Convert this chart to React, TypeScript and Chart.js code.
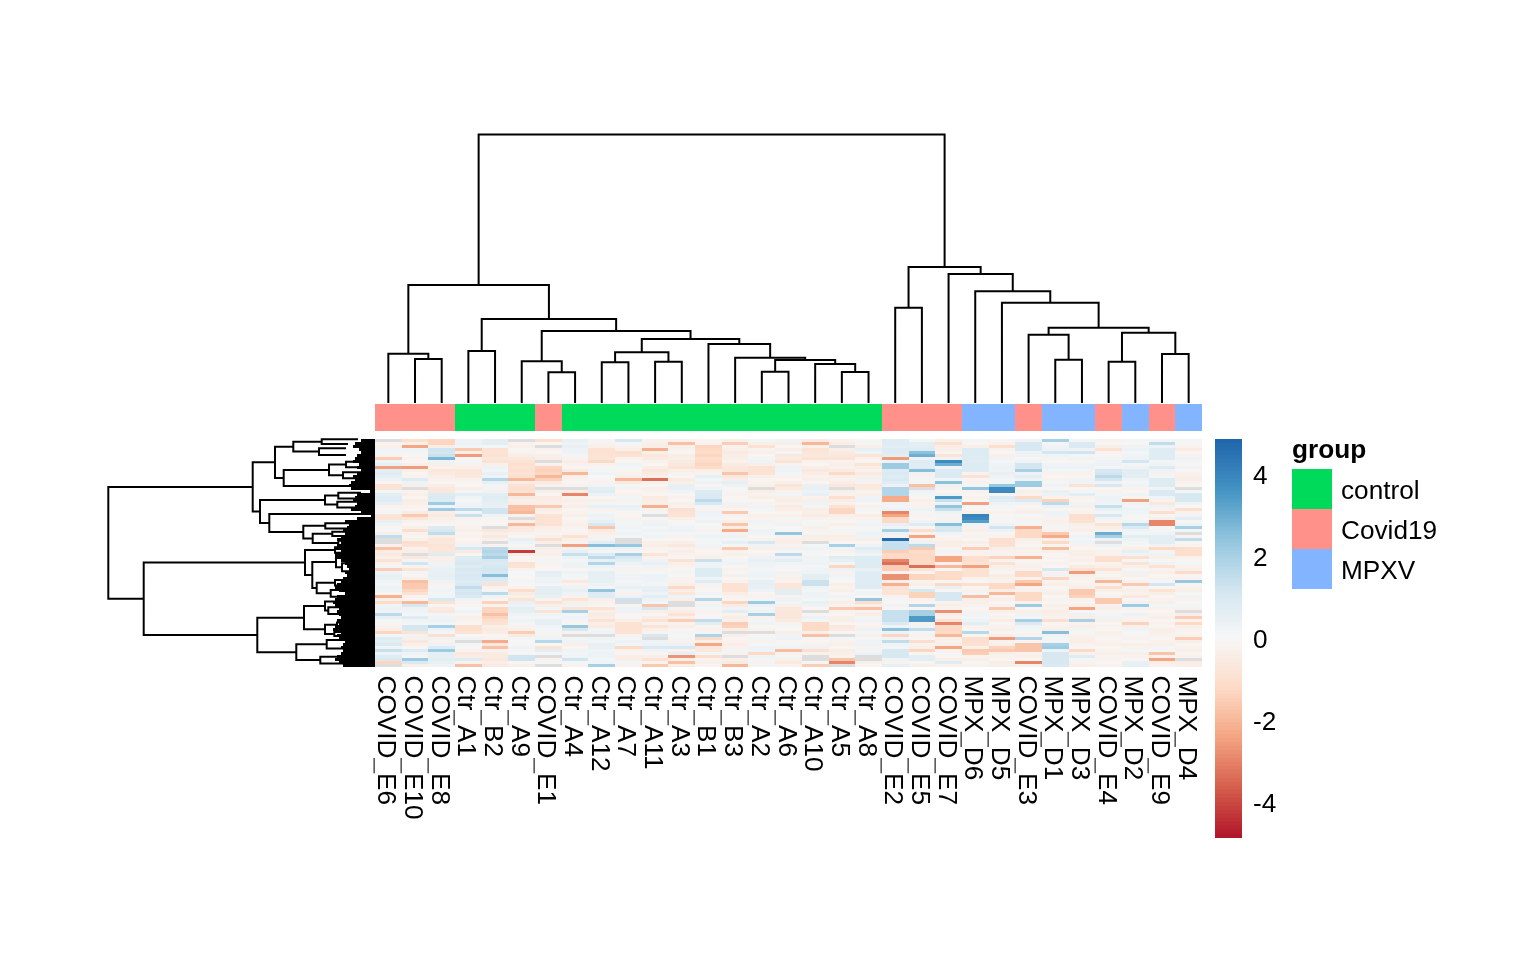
import React, { useEffect, useRef } from "react";
import { Chart, registerables } from "chart.js";

Chart.register(...registerables);

const _ = null;
const FONT = "'Liberation Sans', Arial, sans-serif";
const FONT_PX = 26.2;

const colLabels = ["COVID_E6","COVID_E10","COVID_E8","Ctr_A1","Ctr_B2","Ctr_A9","COVID_E1","Ctr_A4","Ctr_A12","Ctr_A7","Ctr_A11","Ctr_A3","Ctr_B1","Ctr_B3","Ctr_A2","Ctr_A6","Ctr_A10","Ctr_A5","Ctr_A8","COVID_E2","COVID_E5","COVID_E7","MPX_D6","MPX_D5","COVID_E3","MPX_D1","MPX_D3","COVID_E4","MPX_D2","COVID_E9","MPX_D4"];
const colGroups = ["Covid19","Covid19","Covid19","control","control","control","Covid19","control","control","control","control","control","control","control","control","control","control","control","control","Covid19","Covid19","Covid19","MPXV","MPXV","Covid19","MPXV","MPXV","Covid19","MPXV","Covid19","MPXV"];
const groupNames = ["control","Covid19","MPXV"];
const groupColors = ["#00DA5A","#FF918A","#83B4FF"];
const legendTicks = [-4,-2,0,2,4];
const legendLimit = 4.87;
const rdbuStops = ["#B2182B","#D6604D","#F4A582","#FDDBC7","#F7F7F7","#D1E5F0","#92C5DE","#4393C3","#2166AC"];

// heat values, in tenths of a unit, one array per column, top row first; null = NA
const E6 = [_,-2,-3,2,1,-2,-15,1,5,-25, 6,7,5,3,-1,-9,-8,1,6,7, 7,4,-2,-1,1,-8,-9,4,2,-1, 0,-3,15,_,_,-2,-18,-4,-6,-3, -9,-2,1,-15,3,5,4,2,1,3, 2,-1,-22,-3,-11,2,3,2,16,4, 1,-1,-2,-4,-13,1,8,6,9,2, 14,3,8,9,-13,_];
const E10 = [-10,-3,-24,2,1,-1,-2,-1,-3,-26, -3,-1,-2,8,3,-3,_,-2,-3,-1, -4,-3,-2,-1,-5,-16,-7,-2,-1,-3, -10,-2,-1,-3,-10,-9,-2,-4,_,-6, 1,12,-2,-8,1,-1,-3,-18,-16,-16, -13,-9,-2,-1,-20,10,3,2,1,7, 2,1,11,11,-8,2,-3,-6,-3,-1, 8,2,1,22,9,-3];
const E8 = [-13,-13,-4,12,11,13,28,2,-3,-2, -7,-5,-3,-2,-1,-4,-6,-7,8,9, 8,22,2,22,-4,-5,-3,-2,-1,8, 10,15,-4,-7,-6,-8,-7,-7,7,-3, -3,2,3,4,4,5,4,3,-2,1, 2,1,2,10,-9,-1,-5,-6,1,2, 3,1,20,3,1,-10,2,-2,3,8, 22,5,5,6,4,2];
const A1 = [3,3,1,-16,-3,-26,-1,1,-2,-3, -7,-7,-6,-2,-1,-1,-4,1,6,2, 1,2,3,16,1,14,-2,-1,-1,-2, -3,-1,-2,-1,-2,2,10,-5,-1,8, 9,10,8,10,9,10,9,8,9,15, 10,11,9,2,-2,-1,0,2,-1,-3, -2,-1,-10,-10,-8,-1,2,_,1,-1, -2,-6,-4,8,-2,-18];
const B2 = [6,6,1,-9,-8,-9,-7,-9,-3,3, 1,4,2,18,4,1,-2,3,6,7, 6,5,4,12,12,2,-1,-1,-1,_, -6,-3,-6,-2,_,-2,16,18,16,20, 10,9,10,11,10,26,9,8,-9,-2, 1,16,2,-1,-14,-2,-13,-13,-18,-13, -10,-9,-3,-5,-4,-1,-2,-23,-6,-18, -2,-5,-5,-6,-4,-5];
const A9 = [_,-2,-3,-1,-2,-4,-6,-8,-10,-9, -10,-8,-10,-20,-4,-9,-10,-9,-20,-5, -3,-4,-18,-18,-20,-2,_,-3,-20,-6, -5,-2,-1,4,2,-1,3,-42,-4,-1, -1,-9,-8,-2,0,0,-1,1,-1,-2, -11,-5,-3,-8,4,3,6,5,2,1, 2,1,-2,-3,-15,-5,1,0,-1,2, 1,-1,12,12,-1,-3];
const E1 = [-10,-1,_,-2,-1,-3,-4,_,-2,-13, -14,-13,-20,-14,-5,-2,_,-3,-1,-5, -4,-3,-16,-4,-2,-9,-9,-8,-9,-4, -2,-1,-3,-10,-3,_,-3,-2,-3,-1, 1,-2,-1,-1,5,5,2,3,1,5, 6,6,4,-2,-8,-3,1,-8,2,1, 4,5,2,1,1,-2,3,17,-1,-8, 6,1,_,-2,1,_];
const A4 = [4,3,4,3,2,1,-2,-4,-2,-1, -5,-20,-3,-2,-1,-2,_,-4,-30,-2, -3,-2,-4,-1,-2,-3,-1,-2,-3,-2, -1,-2,-9,-3,-2,-25,2,4,14,3, 1,2,3,-1,2,1,1,-6,-2,3, 4,3,-2,-8,-3,2,-9,20,1,2, 1,-1,23,10,-2,_,1,2,-3,-1, 2,1,2,12,1,-2];
const A12 = [1,-2,-3,-9,-9,-8,-8,-12,-2,-1, 1,2,0,-1,-2,2,6,7,3,-1, -3,1,4,-2,1,3,2,4,10,-17, -5,-3,-2,2,6,26,3,1,8,16, 4,18,3,1,5,5,5,4,3,1, 24,7,7,-3,-2,-1,-9,-3,-5,-4, -9,-3,-5,1,3,_,2,1,4,4, 2,3,3,1,2,20];
const A7 = [10,1,-2,-3,-10,-9,-2,-1,2,1, -1,-2,-3,-20,-5,1,-2,-1,-2,1, -2,1,4,2,-1,-1,-2,1,1,2, 1,2,1,_,_,23,3,-1,20,10, 6,3,1,-2,1,2,3,1,2,4, 1,-2,3,13,_,1,3,2,-1,-1, -3,-9,-9,-9,-8,-2,1,3,1,-12, -2,-1,-4,-4,1,-2];
const A11 = [-2,-3,-4,-22,-3,-6,-5,-2,-1,-4, -7,-5,-3,-34,-2,-1,-3,-2,-1,-5, -4,-3,-22,-2,1,_,-1,2,3,1, 2,1,2,-1,-3,-4,-2,-1,-8,-2, 3,4,2,-2,1,3,3,2,1,4, 5,3,6,3,1,-17,10,-3,-1,-4, -9,-2,-8,-3,-2,10,_,2,3,9, 2,-1,-3,-9,-2,-16];
const A3 = [-2,-18,-3,-2,-1,-4,-3,-5,-6,-8, -3,-2,-1,-5,-3,5,4,2,-1,-2, -1,-3,-2,-10,-9,-8,-3,-1,1,2, 3,1,-2,-1,-3,-6,-2,-4,-2,-1, -9,-3,-2,-1,1,-1,-2,-2,-3,-12, -4,-7,2,-3,_,_,-2,-4,-8,-3, -15,-2,-4,-1,1,-1,1,-2,3,10, -2,5,-27,-3,-18,-4];
const B1 = [-1,-2,-13,-12,-11,-13,-10,-12,-13,-11, -3,-2,5,1,3,-1,2,8,9,9, 16,10,1,-2,3,2,1,3,-1,1, -2,1,3,1,1,2,-2,-1,-2,-3, 13,2,3,8,8,8,2,8,-2,1, -1,2,-1,18,-2,2,1,-2,-1,-1, 15,6,-1,-2,1,19,-11,-3,-24,-6, -6,1,-10,-2,-3,-1];
const B3 = [-3,-15,-2,-3,-5,-4,-3,-2,-5,-6, -7,-17,-6,-4,5,3,-1,1,-2,-1, -1,2,-3,-1,-16,-2,-1,-3,-17,-4, -23,-2,3,1,5,1,-16,-2,-3,-1, 1,2,-1,-2,1,-3,-1,-2,-9,-9, -9,-4,-2,-1,-13,-5,2,6,-2,-4, -3,-15,-14,-4,_,-3,-1,-2,-4,-2, 1,-2,_,-3,-5,-20];
const A2 = [1,-3,-9,-2,-3,-1,1,2,-3,-9, -9,-8,-3,-1,-2,-3,_,-4,-2,-3, -1,-2,2,1,-1,-3,-2,2,1,-1, 3,2,-1,-2,10,2,-3,-1,-2,3, 4,3,2,1,2,3,1,5,5,4, 3,-1,-2,1,22,3,1,2,20,-2, 1,2,-1,-2,_,-1,1,-2,1,3, 2,-12,2,1,-2,1];
const A6 = [2,-3,-1,-4,1,-6,-5,-8,-2,3, 2,1,-2,-1,-3,-8,-5,-2,1,-3, -4,-2,-5,-4,-1,-3,1,-2,3,-1, 1,24,-2,-3,-4,-2,2,-1,16,3, 6,2,1,-1,2,-2,-3,-2,-7,-7, 6,6,-2,3,1,-3,-6,-6,-7,-7, -5,-2,1,-1,-3,2,3,-1,1,2, -19,-2,1,-3,-5,-2];
const A10 = [-5,-20,-3,-8,-7,-6,-9,-2,-1,-4, -6,-4,-2,-3,-1,4,4,3,4,-2, -3,2,1,-4,-3,-5,-2,-1,1,-3, -2,1,-4,-3,_,1,2,1,-1,2, 2,3,1,2,3,6,6,13,13,2, 1,3,2,1,4,2,-1,_,-1,3, 1,-12,-12,-12,-3,-18,1,-1,-2,3, -10,-2,_,_,-1,-15];
const A5 = [-2,-4,_,-3,-5,-6,-8,-2,-3,-2, -5,-12,-3,-2,-4,-6,_,-3,-2,-10, -4,-2,-8,-13,-13,-3,-2,-1,-3,-1, 1,-2,-4,-3,-1,20,2,-2,-1,7, 5,1,-13,3,-2,2,1,-1,-3,-2, -3,-1,2,-1,-3,-2,-16,-2,-1,-3, -4,-1,-6,-5,-1,_,1,-2,-3,-1, -4,-3,-2,-17,-30,_];
const A8 = [-1,1,-3,5,2,-8,-2,-1,-8,-4, -2,-5,-3,2,-2,-6,-5,-2,-3,2, 3,-1,-2,1,-1,-4,-2,1,2,-1, 1,3,2,-3,-1,2,7,4,2,8, 8,8,8,4,7,7,7,7,7,8, 1,2,-1,24,-10,-3,-18,-2,-4,1, 2,-1,-2,3,1,-3,1,2,3,-2, 1,3,_,_,-3,-1];
const E2 = [7,7,6,8,7,6,-26,3,22,22, 8,9,8,9,7,3,18,18,18,-23, -23,2,1,3,-30,-24,-12,-12,4,2, 20,3,-2,46,14,14,14,-15,-12,-12, -30,-34,-15,-15,-2,-28,-28,-3,-22,-8, -8,-8,-2,1,-1,2,-1,14,14,14, 14,9,2,25,3,-13,2,15,2,1, 10,10,10,2,-2,5];
const E5 = [1,6,6,8,25,30,2,7,7,7, 26,2,-2,1,1,-18,_,2,1,-1, -3,-2,-2,3,1,-2,-1,2,8,-1, -10,-2,-24,-2,3,16,-16,-11,-12,-12, -12,-12,-34,-8,-2,-13,-13,-2,-3,-1, 10,-14,-14,-2,-1,18,-1,20,20,35, 35,-2,2,15,1,-2,-1,-10,-2,-3, -13,-1,6,6,-1,-3];
const E7 = [-3,-10,-4,-3,-1,-8,2,38,30,2, 9,9,9,1,25,3,-2,-1,2,35, 14,3,24,14,2,1,-2,2,26,10, 10,2,-1,-2,-4,-4,-1,2,-2,-24, -24,-2,-20,-1,-11,-11,-11,-1,-12,4, -1,10,10,10,-2,-3,-2,-28,-3,-2, -9,-30,-12,-12,-12,-20,-3,-2,-3,-24, -2,-1,-1,-4,8,-2];
const D6 = [1,-1,-3,8,8,8,8,7,8,8, 8,-2,-9,-1,-2,1,24,-2,-1,-2, -1,-25,1,-1,-3,40,38,34,2,-2, -3,-1,-2,-1,-3,-2,-15,-2,-2,-10, -10,-9,-25,-9,-9,-9,-2,-1,-10,-1, -2,1,-19,-3,-3,-2,-1,-2,2,1, 3,6,-2,-1,17,-1,-10,-10,-9,-3, -16,-15,-2,-3,-1,-2];
const D5 = [-1,-2,-10,-2,-1,-3,2,1,2,3, 2,4,3,1,1,23,38,38,-1,8, 6,2,1,-1,-2,-1,1,-1,2,12, 3,-1,-2,-10,-10,-9,-3,-2,-2,-14, -2,-9,-3,-2,-1,-4,-3,-2,-12,-12, -4,-20,-2,-3,-1,-2,-16,-3,-1,-2, -4,-1,-2,-3,-1,-3,-26,-2,-3,-14, -16,-3,-2,-1,-4,-3];
const E3 = [2,10,10,10,3,2,-1,3,11,11, 20,3,6,2,22,22,-1,-3,-2,-12, 9,2,-1,-2,-3,1,-2,1,-1,-22, -12,-12,-12,-3,-2,-1,-3,-2,-2,-22, -1,-2,-3,-2,-12,-12,-2,-16,-24,-2, -2,-12,-12,-12,-2,22,-1,-3,2,1, 20,9,2,1,-1,-2,18,-1,-17,-17, -17,-2,-3,-1,-30,-2];
const D1 = [20,1,2,3,11,2,1,-1,2,3, 1,-2,-1,-2,1,2,-1,4,3,-2, -14,16,3,-1,3,2,-2,-3,-2,1, -2,-16,-23,-3,-12,-1,-19,-3,-1,-2, -1,-2,-1,10,-2,2,-13,-2,-3,-1, -2,-3,-1,-2,-1,-3,-2,-4,-3,-2, -10,-1,-2,-3,26,2,1,1,20,22, 3,10,10,10,10,9];
const D3 = [1,9,9,2,12,1,2,-1,2,3, 1,-2,-1,2,2,-8,-1,1,6,-2, -1,2,-3,-1,-2,-10,-10,-9,-3,-2, -3,-1,3,1,2,-2,-1,-3,-4,-2, -3,-1,-5,-9,-26,-3,-2,-1,-2,-3, -16,-16,-14,-2,-1,-3,-24,-1,3,-4, 20,-2,-3,1,-1,-2,-3,-4,-2,-1, -12,-2,7,1,-2,-3];
const E4 = [-2,-1,-3,-9,-2,-1,1,2,3,1, 10,11,16,11,2,10,-1,-2,1,3, 2,2,14,4,1,10,2,-1,-9,-3, -2,30,20,3,_,2,-1,-2,-2,-10, -10,-2,-3,-8,-2,-1,-3,-20,-2,-10, -3,-1,-2,-16,-16,-2,-3,-1,1,2, -3,-1,-2,-1,-3,-2,-1,-2,-3,-1, -2,-3,-2,-2,-1,-2];
const D2 = [1,-1,2,3,1,2,3,11,1,2, 6,6,6,2,1,2,-2,-1,2,-1, -25,2,1,3,2,1,-1,2,17,9, 2,1,6,3,1,-1,-3,5,2,-10, 1,-8,-3,-1,2,-3,-1,-2,-16,-2, -3,-2,-6,-1,2,22,-2,-1,3,-2, -2,-14,-3,2,-1,1,-2,-1,-3,-2, 1,-3,-2,-1,4,5];
const E9 = [1,15,3,7,7,7,7,1,2,8, 3,-2,1,8,8,8,2,9,9,2, -2,-6,3,-2,-10,-1,-3,-30,-30,-1, 1,2,6,6,6,2,-12,-2,3,-3, -1,2,-9,-2,-3,-1,-2,1,11,-1, -9,-3,-1,-2,-3,1,-2,-1,-2,-3, -1,-2,-1,-4,-3,-2,-1,-2,-3,1, -1,-17,-2,-24,-4,-2];
const D4 = [1,-1,-2,-5,-1,-2,3,1,-1,2, -1,-2,-3,-4,-2,-1,_,1,10,10, 10,2,-1,-10,-2,2,6,-1,3,20, 1,_,-2,15,-1,-2,-10,-10,-10,-2, -1,1,-2,-3,-11,-1,-2,23,-1,-2, -3,-1,2,-2,-1,1,-2,_,-3,-15, -2,-12,-3,-2,-1,-2,-15,-3,-1,-2, -3,-1,-2,_,-4,-3];
const heatColumns = [E6,E10,E8,A1,B2,A9,E1,A4,A12,A7,A11,A3,B1,B3,A2,A6,A10,A5,A8,E2,E5,E7,D6,D5,E3,D1,D3,E4,D2,E9,D4];
const ROW_COUNT = 76;

// column tree, hclust style: negative = leaf number, positive = merge number
const topLeft = [-2,-1,-4,-7,-6,-9,-11,6,-15,-18,-17,9,-14,-13,8,5,3,2,-20,-26,-25,-28,-30,22,21,-24,-23,-22,19,18];
const topRight = [-3,1,-5,-8,4,-10,-12,7,-16,-19,10,11,12,13,14,15,16,17,-21,-27,20,-29,-31,23,24,25,26,27,28,29];
const topHeight = [43,48.3,51,29.7,40.7,39.7,40.3,49.7,30.3,30,38,42,44.3,58,63,71,83,117,94.3,42.3,67.3,40.3,48,69.3,74.3,99.3,110.7,128,135,267.5];

// row tree: terminal clusters (position in rows, height), then merges
const rowTermPos = [0.1,1.7,3.1,5.3,7.6,9.4,11.1,13.1,15.67,17.9,19.8,20.9,22.8,25,28.1,29.8,30.9,32.3,33.9,35.4,36.1,37.9,39.2,41.4,44.1,47,48.8,50.3,52.6,54.2,56.1,58.3,61.2,62.6,64.3,65.7,67,69.8,72.6,74.8];
const rowTermHeight = [18,28,30,30,15,15,15,15,12,15,15,15,15,0,15,15,15,15,15,15,15,15,16,15,15,15,15,15,15,18,15,15,15,15,15,15,18,22,22,22];
const rowLeft = [-1,-3,1,-5,-7,4,6,3,-10,-12,9,-15,-17,-19,13,12,-14,11,8,-21,-24,-23,-26,-28,23,22,20,-31,-30,-33,-35,30,29,-37,-39,34,33,27,19];
const rowRight = [-2,-4,2,-6,-8,5,-9,7,-11,-13,10,-16,-18,-20,14,15,16,17,18,-22,-25,21,-27,-29,24,25,26,-32,28,-34,-36,31,32,-38,-40,35,36,37,38];
const rowHeight = [53.3,56,81.7,29,32,46,91.3,100,36.7,37.7,50,49.7,42.7,36.7,62.3,71.7,105.7,115,122.3,40,33,39,40,44.3,58.3,62.7,70,46.7,50,38,40.7,50,71,48.3,54.7,78.7,117.7,231.3,266.7];
// how far the dense bundle of leaf branches reaches from the heatmap, per row
const rowBundle = [14,20,22,16,14,18,20,22,16,18, 14,18,22,20,24,26,24,5,18,20, 22,18,20,24,14,4,18,30,26,28, 32,30,34,38,34,38,40,34,40,38, 34,30,28,26,30,28,32,34,38,40, 36,30,38,40,42,40,36,38,36,34, 38,36,40,42,34,38,36,30,32,34, 32,34,38,40,36,32];

function lerpHex(a: string, b: string, t: number) {
  const p = (h: string, i: number) => parseInt(h.slice(i, i + 2), 16);
  const c = [1, 3, 5].map((i) => Math.round(p(a, i) + (p(b, i) - p(a, i)) * t));
  return `rgb(${c[0]},${c[1]},${c[2]})`;
}
function rampColor(f: number) {
  const s = Math.max(0, Math.min(0.99999, f)) * (rdbuStops.length - 1);
  const i = Math.floor(s);
  return lerpHex(rdbuStops[i], rdbuStops[i + 1], s - i);
}
const BINS = 100;
const palette = Array.from({ length: BINS }, (_u, i) => rampColor(i / (BINS - 1)));
function cellColor(v: number | null | undefined) {
  if (v === null) return "#DDDDDD";
  const f = ((v ?? 0) / 10 + legendLimit) / (2 * legendLimit);
  return palette[Math.max(0, Math.min(BINS - 1, Math.floor(f * BINS)))];
}

type Pt = { x: number; y: number };
const GAP: Pt = { x: NaN, y: NaN };

function treeLinks(left: number[], right: number[], height: number[], pos: (leaf: number) => number, leafH: (leaf: number) => number, at: (p: number, h: number) => Pt) {
  const mid: number[] = [];
  const pts: Pt[] = [];
  left.forEach((l, i) => {
    const info = (id: number) => (id < 0 ? [pos(-id - 1), leafH(-id - 1)] : [mid[id - 1], height[id - 1]]);
    const [p1, h1] = info(l);
    const [p2, h2] = info(right[i]);
    mid[i] = (p1 + p2) / 2;
    pts.push(at(p1, h1), at(p1, height[i]), at(p2, height[i]), at(p2, h2), GAP);
  });
  return pts;
}

const baseOpts = { responsive: false, animation: false as const, events: [] as string[], maintainAspectRatio: false };
const noPlugins = { legend: { display: false }, tooltip: { enabled: false } };

const boxes: Record<string, number[]> = {
  top: [375, 128, 827, 280],
  strip: [375, 404, 827, 27],
  heat: [360, 439, 842, 400],
  row: [100, 434, 275, 238],
  bar: [1215, 434, 80, 410],
  legend: [1285, 430, 200, 165],
};

export default function App() {
  const refs = useRef<Record<string, HTMLCanvasElement | null>>({});
  useEffect(() => {
    document.body.style.margin = "0";
    const charts: Chart[] = [];
    const make = (k: string, cfg: any) => charts.push(new Chart(refs.current[k] as HTMLCanvasElement, cfg));

    make("top", {
      type: "scatter",
      data: { datasets: [{
        data: treeLinks(topLeft, topRight, topHeight, (l) => l + 0.5, () => 0, (p, h) => ({ x: p, y: h })),
        showLine: true, borderColor: "#000", borderWidth: 2, pointRadius: 0, spanGaps: false, clip: false, borderCapStyle: "square",
      }] },
      options: { ...baseOpts, layout: { padding: { top: 2, bottom: 6 } }, plugins: noPlugins, scales: {
        x: { type: "linear", display: false, min: 0, max: 31 },
        y: { type: "linear", display: false, min: 0, max: 272 },
      } },
    });

    make("strip", {
      type: "bar",
      data: { labels: ["group"], datasets: colGroups.map((g, i) => ({ label: colLabels[i], data: [1], backgroundColor: groupColors[groupNames.indexOf(g)], inflateAmount: 0, barPercentage: 1, categoryPercentage: 1 })) },
      options: { ...baseOpts, indexAxis: "y", plugins: noPlugins, scales: {
        x: { type: "linear", display: false, min: 0, max: 31, stacked: true, alignToPixels: true },
        y: { display: false, stacked: true },
      } },
    });

    const rowLabels = Array.from({ length: ROW_COUNT }, (_u, i) => String(i));
    make("heat", {
      type: "bar",
      data: { labels: rowLabels, datasets: heatColumns.map((col, c) => ({
        label: colLabels[c], data: rowLabels.map(() => 1), backgroundColor: rowLabels.map((_r, r) => cellColor(col[r])),
        inflateAmount: 0, barPercentage: 1, categoryPercentage: 1, borderWidth: 0,
      })) },
      options: { ...baseOpts, indexAxis: "y", layout: { padding: { left: 15, bottom: 172 } }, plugins: noPlugins, scales: {
        x: { type: "linear", display: false, min: 0, max: 31, stacked: true, alignToPixels: true },
        y: { display: false, stacked: true },
      } },
      plugins: [{ id: "colLabels", afterDraw(chart: any) {
        const { ctx, chartArea, scales } = chart;
        ctx.save();
        ctx.fillStyle = "#000";
        ctx.font = `${FONT_PX}px ${FONT}`;
        ctx.textBaseline = "alphabetic";
        ctx.textAlign = "left";
        colLabels.forEach((t, i) => {
          ctx.save();
          ctx.translate(scales.x.getPixelForValue(i + 0.5) - 10.5, chartArea.bottom + 8.5);
          ctx.rotate(Math.PI / 2);
          // the reference's underscores are hairlines: trim the lower half of the stroke
          ctx.beginPath();
          ctx.rect(-5, -30, 320, 33.9);
          ctx.clip();
          ctx.fillText(t, 0, 0);
          ctx.restore();
        });
        ctx.restore();
      } }],
    });

    const treePts = treeLinks(rowLeft, rowRight, rowHeight, (l) => rowTermPos[l], (l) => rowTermHeight[l], (p, h) => ({ x: h, y: p }));
    const bundlePts: Pt[] = [];
    rowBundle.forEach((h, r) => bundlePts.push({ x: h, y: r + 0.5 }, { x: 0, y: r + 0.5 }, GAP));
    make("row", {
      type: "scatter",
      data: { datasets: [
        { data: treePts, showLine: true, borderColor: "#000", borderWidth: 2, pointRadius: 0, spanGaps: false, clip: false, borderCapStyle: "square" },
        { data: bundlePts, showLine: true, borderColor: "#000", borderWidth: 3, pointRadius: 0, spanGaps: false, clip: false },
      ] },
      options: { ...baseOpts, layout: { padding: { top: 5, bottom: 5 } }, plugins: noPlugins, scales: {
        x: { type: "linear", display: false, min: 0, max: 275, reverse: true },
        y: { type: "linear", display: false, min: 0, max: ROW_COUNT, reverse: true },
      } },
    });

    const step = (2 * legendLimit) / BINS;
    make("bar", {
      type: "bar",
      data: { labels: ["value"], datasets: palette.map((c, i) => ({
        data: [[-legendLimit + i * step, -legendLimit + (i + 1) * step]], backgroundColor: c, grouped: false, barPercentage: 1, categoryPercentage: 1,
      })) },
      options: { ...baseOpts, layout: { padding: { top: 5, bottom: 6 } }, plugins: noPlugins, scales: {
        x: { display: false },
        y: {
          type: "linear", position: "right", min: -legendLimit, max: legendLimit,
          grid: { display: false, drawTicks: false }, border: { display: false },
          afterBuildTicks: (s: any) => { s.ticks = legendTicks.map((value) => ({ value })); },
          afterFit: (s: any) => { s.width = 53; s.paddingTop = 0; s.paddingBottom = 0; },
          ticks: { color: "#000", padding: 11, labelOffset: 2, font: { family: FONT, size: FONT_PX }, callback: (v: number) => String(v), autoSkip: false },
        },
      } },
    });

    make("legend", {
      type: "bar",
      data: { labels: ["group"], datasets: groupNames.map((g, i) => ({ label: g, data: [1], backgroundColor: groupColors[i], inflateAmount: 0, barPercentage: 1, categoryPercentage: 1 })) },
      options: { ...baseOpts, layout: { padding: { left: 7, right: 153, top: 39, bottom: 6 } }, plugins: noPlugins, scales: {
        x: { display: false, stacked: true },
        y: { display: false, stacked: true, min: 0, max: 3, reverse: true },
      } },
      plugins: [{ id: "legendText", afterDraw(chart: any) {
        const { ctx, chartArea, scales } = chart;
        ctx.save();
        ctx.fillStyle = "#000";
        ctx.textBaseline = "alphabetic";
        ctx.textAlign = "left";
        ctx.font = `bold ${FONT_PX}px ${FONT}`;
        ctx.fillText("group", chartArea.left, chartArea.top - 11);
        ctx.font = `${FONT_PX}px ${FONT}`;
        groupNames.forEach((g, i) => ctx.fillText(g, chartArea.right + 9, scales.y.getPixelForValue(i + 0.5) + 9.5));
        ctx.restore();
      } }],
    });

    return () => charts.forEach((c) => c.destroy());
  }, []);

  return (
    <div style={{ position: "absolute", left: 0, top: 0, width: 1536, height: 960, background: "#fff", overflow: "hidden" }}>
      {Object.entries(boxes).map(([k, b]) => (
        <canvas key={k} ref={(el) => { refs.current[k] = el; }} width={b[2]} height={b[3]}
          style={{ position: "absolute", left: b[0], top: b[1], width: b[2], height: b[3] }} />
      ))}
    </div>
  );
}
